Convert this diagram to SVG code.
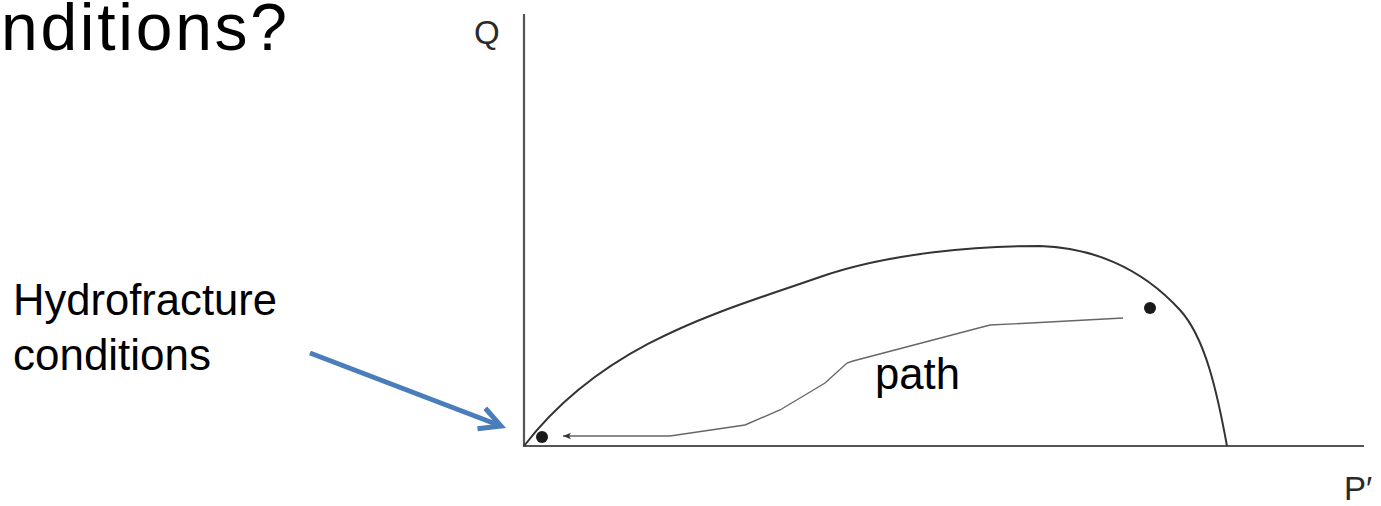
<svg xmlns="http://www.w3.org/2000/svg" width="1381" height="506" viewBox="0 0 1381 506">
  <style>
    .txt { font-family: "Liberation Sans", Arial, sans-serif; fill: #000; }
    .axis-lbl { font-family: "Liberation Sans", Arial, sans-serif; fill: #2a2a2a; font-size: 33px; }
    .axis { stroke: #555; stroke-width: 2.2; fill: none; }
    .curve { stroke: #333; stroke-width: 2; fill: none; }
    .trace { stroke: #666; stroke-width: 1.4; fill: none; }
    .dot { fill: #1a1a1a; }
    .blue { stroke: #4A7EBB; stroke-width: 5; fill: none; }
  </style>
  <defs>
    <marker id="smallHead" markerUnits="userSpaceOnUse" viewBox="-10 -5 12 10" refX="0" refY="0" markerWidth="12" markerHeight="10" orient="auto" overflow="visible">
      <path d="M0,0 L-8,-3.2 L-6,0 L-8,3.2 Z" fill="#333"/>
    </marker>
    <marker id="blueHead" markerUnits="userSpaceOnUse" viewBox="-26 -15 30 30" refX="0" refY="0" markerWidth="30" markerHeight="30" orient="auto" overflow="visible">
      <path d="M-21,-11 L0,0 L-21,11" fill="none" stroke="#4A7EBB" stroke-width="5" stroke-linejoin="miter"/>
    </marker>
  </defs>
  <rect width="1381" height="506" fill="#fff"/>

  <g id="title">
    <text class="txt" x="1" y="50" font-size="66" textLength="286" lengthAdjust="spacing">nditions?</text>
  </g>

  <g id="axes">
    <path class="axis" d="M524,14 L524,446 L1364,446"/>
    <text class="axis-lbl" x="474" y="44">Q</text>
    <text class="axis-lbl" x="1344" y="500" font-size="32">P′</text>
  </g>

  <g id="envelope">
    <path class="curve" d="M524,446 C604,342 720,312 820,277 C890,252.5 980,246 1040,246 C1090,247.5 1140,266 1180,310 C1205,337.5 1217,391 1227,446"/>
  </g>

  <g id="stress-path">
    <polyline class="trace" points="1123,318 1040,322.5 990,325 853,361 847,363 825,383 780,410 745,425 670,436 563,436" marker-end="url(#smallHead)"/>
    <text class="txt" x="875" y="389" font-size="44" textLength="85" lengthAdjust="spacingAndGlyphs">path</text>
  </g>

  <g id="points">
    <circle class="dot" cx="542" cy="437" r="6"/>
    <circle class="dot" cx="1150" cy="308" r="6"/>
  </g>

  <g id="hydrofracture-label">
    <text class="txt" x="13" y="315" font-size="44" textLength="264" lengthAdjust="spacingAndGlyphs">Hydrofracture</text>
    <text class="txt" x="13" y="370" font-size="44" textLength="198" lengthAdjust="spacingAndGlyphs">conditions</text>
  </g>

  <g id="connectors">
    <line class="blue" x1="310" y1="353" x2="501" y2="426" marker-end="url(#blueHead)"/>
  </g>
</svg>
